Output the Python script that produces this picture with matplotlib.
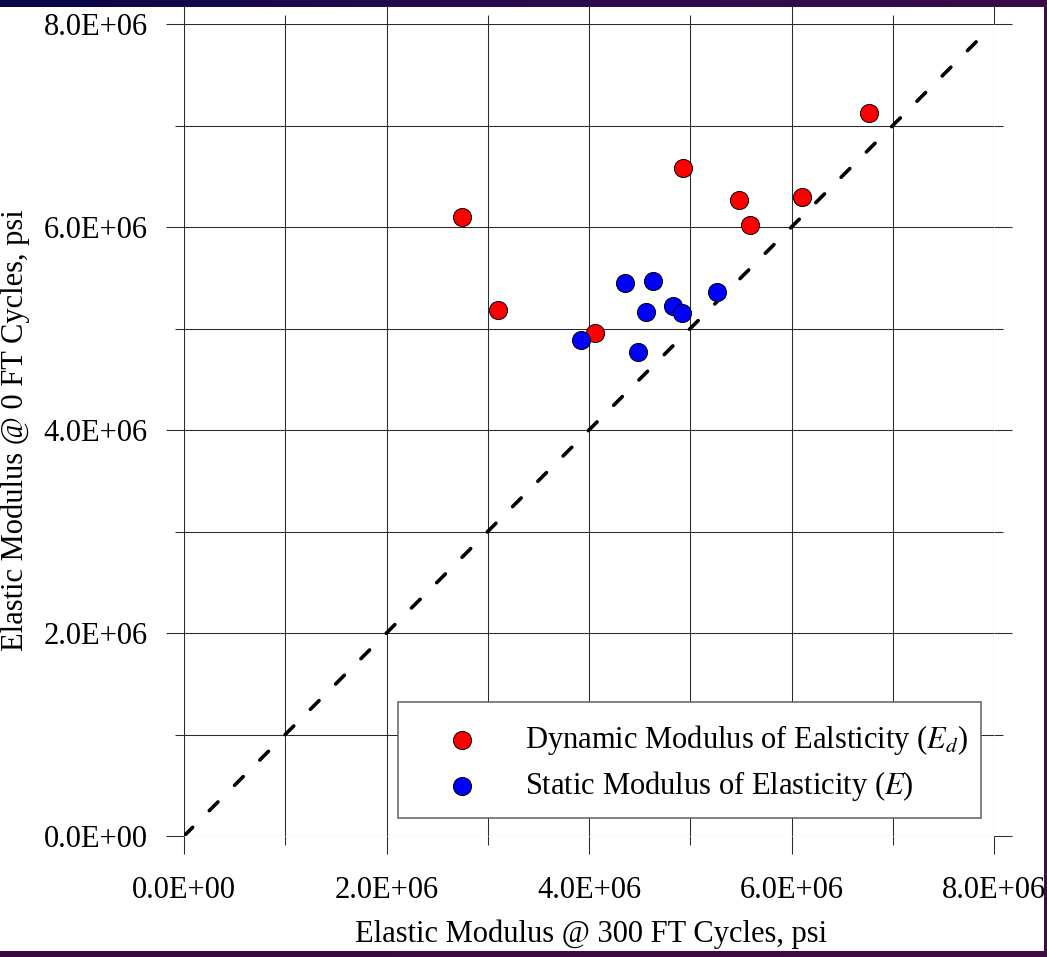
import numpy as np
import matplotlib
matplotlib.use('Agg')
import matplotlib.pyplot as plt
from matplotlib.colors import LinearSegmentedColormap
from matplotlib.ticker import MultipleLocator, FuncFormatter

plt.rcParams['font.family'] = ['Liberation Serif', 'DejaVu Serif']
plt.rcParams['mathtext.fontset'] = 'stix'

# data (psi)
dyn_x = np.array([2.75, 3.10, 4.06, 4.93, 5.48, 5.59, 6.10, 6.77]) * 1e6
dyn_y = np.array([6.10, 5.18, 4.96, 6.58, 6.27, 6.02, 6.30, 7.12]) * 1e6
sta_x = np.array([3.92, 4.36, 4.63, 4.56, 4.83, 4.92, 4.48, 5.26]) * 1e6
sta_y = np.array([4.89, 5.45, 5.47, 5.16, 5.22, 5.15, 4.77, 5.36]) * 1e6
equality_line = [0, 7.95e6]

dyn_label = 'Dynamic Modulus of Ealsticity ($E_d$)'
sta_label = 'Static Modulus of Elasticity ($E$)'
x_title = 'Elastic Modulus @ 300 FT Cycles, psi'
y_title = 'Elastic Modulus @ 0 FT Cycles, psi'

W, H = 1047, 957
fig = plt.figure(figsize=(W / 100, H / 100), dpi=100)

# dark frame bands around the picture
bg = fig.add_axes([0, 0, 1, 1], zorder=-5)
bg.axis('off')
band = LinearSegmentedColormap.from_list('band', ['#07074a', '#2a0a4c', '#3a0a48'])
grad = np.linspace(0, 1, 256).reshape(1, -1)
bg.imshow(grad, cmap=band, extent=(0, W, 7, 0), aspect='auto')
bottom = LinearSegmentedColormap.from_list('bot', ['#3a0a42', '#420a46'])
bg.imshow(grad, cmap=bottom, extent=(0, W, H, H - 6), aspect='auto')
bg.add_patch(plt.Rectangle((W - 3, 0), 3, H, color='#420a48', lw=0))
bg.set_xlim(0, W)
bg.set_ylim(H, 0)

ax = fig.add_axes([184 / W, 1 - 836 / H, 810 / W, 812 / H])
ax.set_xlim(0, 8e6)
ax.set_ylim(0, 8e6)

for s in ax.spines.values():
    s.set_visible(False)

gc = '#2a2a2a'
ax.xaxis.set_major_locator(MultipleLocator(2e6))
ax.xaxis.set_minor_locator(MultipleLocator(1e6))
ax.yaxis.set_major_locator(MultipleLocator(2e6))
ax.yaxis.set_minor_locator(MultipleLocator(1e6))
fmt = FuncFormatter(lambda v, p: '{:.1E}'.format(v))
ax.xaxis.set_major_formatter(fmt)
ax.yaxis.set_major_formatter(fmt)
ax.grid(True, which='both', color=gc, linewidth=0.75)
ax.set_axisbelow(True)

ax.tick_params(which='both', direction='out', color=gc, width=0.75,
               top=True, right=True, labelsize=22)
ax.tick_params(which='major', length=13)
ax.tick_params(which='minor', length=6.5)
ax.tick_params(axis='x', pad=16)
ax.tick_params(axis='y', pad=13)

ax.plot(equality_line, equality_line, color='black', linewidth=2.6,
        linestyle=(0, (3.4, 6.51)), dash_capstyle='round', zorder=2)

ax.scatter(dyn_x, dyn_y, s=170, c='#ff0000', edgecolors='black',
           linewidths=0.7, zorder=3, label=dyn_label)
ax.scatter(sta_x, sta_y, s=170, c='#0000ff', edgecolors='black',
           linewidths=0.7, zorder=4, label=sta_label)

# legend box (drawn separately so its padding can match the original)
ax.add_patch(plt.Rectangle((0.2642, 0.0222), 0.7198, 0.1428, transform=ax.transAxes,
                           facecolor='white', edgecolor='#606060', linewidth=1.1,
                           zorder=5))
leg = ax.legend(loc='upper left', bbox_to_anchor=(0.3056, 0.1392),
                fontsize=22, frameon=False, borderpad=0, handlelength=2.0,
                handletextpad=1.06, labelspacing=0.4, borderaxespad=0)
leg.set_zorder(6)

ax.set_xlabel(x_title, fontsize=22)
ax.xaxis.label.set_va('baseline')
ax.xaxis.set_label_coords(0.503, (836 - 942) / 812)
ax.set_ylabel(y_title, fontsize=22)
ax.yaxis.set_label_coords((30 - 184) / 810, 0.5)

fig.savefig('out.png', dpi=100)
